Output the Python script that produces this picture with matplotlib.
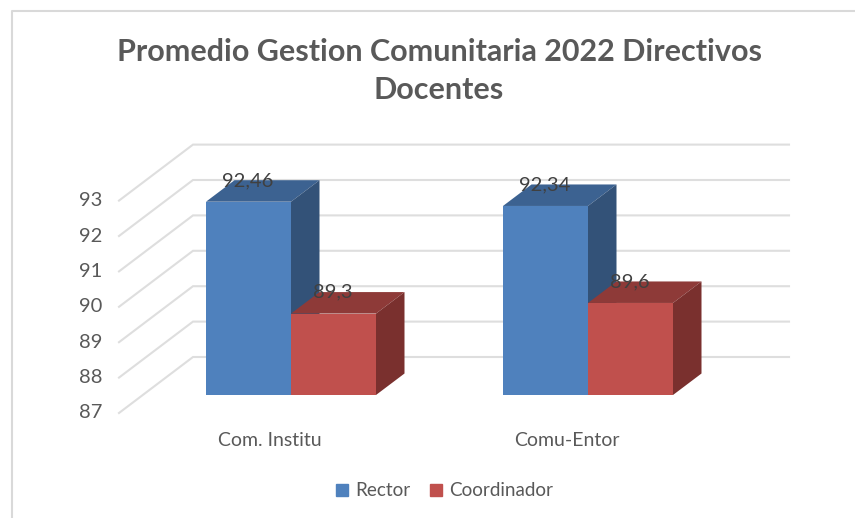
import matplotlib
matplotlib.use('Agg')
import matplotlib.pyplot as plt
from matplotlib.patches import Polygon, Rectangle

plt.rcParams['font.family'] = ['Lato', 'DejaVu Sans']

#Chart values
title = 'Promedio Gestion Comunitaria 2022 Directivos\nDocentes'
categories = ['Com. Institu', 'Comu-Entor']
series_names = ['Rector', 'Coordinador']
rector = [92.46, 92.34]
coordinador = [89.3, 89.6]
rector_labels = ['92,46', '92,34']
coordinador_labels = ['89,3', '89,6']
y_ticks = [87, 88, 89, 90, 91, 92, 93]

W, H = 855, 518
PX_X = 297.0   #pixels per category
PX_Y = 35.4    #pixels per value unit
X0_PX = 291.0  #pixel of first category centre
Y0_PX = 395.0  #pixel of value 87 on the bars' front face

BAR_W = 85 / PX_X
BAR_DX, BAR_DY = 28.5 / PX_X, 21.5 / PX_Y
WALL_LEFT = (119 - X0_PX) / PX_X
WALL_BACK = (193 - X0_PX) / PX_X
WALL_RIGHT = (789 - X0_PX) / PX_X
WALL_FRONT_DY = (395 - 413) / PX_Y  #floor front edge sits under the bars
WALL_BACK_DY = (395 - 357) / PX_Y

GREY = '#595959'
BLUE = ['#4f81bd', '#3c6291', '#335278']
RED = ['#c0504d', '#8e3a38', '#7a302e']


def draw_bar(ax, x, value, colors):
	base = y_ticks[0]
	ax.bar(x, value - base, BAR_W, bottom=base, align='edge', color=colors[0], linewidth=0, zorder=3)
	top = [(x, value), (x + BAR_W, value), (x + BAR_W + BAR_DX, value + BAR_DY), (x + BAR_DX, value + BAR_DY)]
	side = [(x + BAR_W, base), (x + BAR_W + BAR_DX, base + BAR_DY), (x + BAR_W + BAR_DX, value + BAR_DY), (x + BAR_W, value)]
	ax.add_patch(Polygon(top, closed=True, color=colors[1], linewidth=0, zorder=2))
	ax.add_patch(Polygon(side, closed=True, color=colors[2], linewidth=0, zorder=2))


fig = plt.figure(figsize=(W / 100, H / 100), dpi=100)
ax = fig.add_axes([0, 0, 1, 1])
ax.set_xlim(-X0_PX / PX_X, (W - X0_PX) / PX_X)
ax.set_ylim(y_ticks[0] - (H - Y0_PX) / PX_Y, y_ticks[0] + Y0_PX / PX_Y)
ax.axis('off')

#Wall and floor gridlines
for t in y_ticks:
	ax.plot([WALL_LEFT, WALL_BACK, WALL_RIGHT], [t + WALL_FRONT_DY, t + WALL_BACK_DY, t + WALL_BACK_DY],
			color='#dedede', lw=1.5, zorder=1, solid_joinstyle='miter')
	ax.text(WALL_LEFT - 17 / PX_X, t + WALL_FRONT_DY, str(t), ha='right', va='center', fontsize=14.5, color=GREY)

#Bars, blue first so the red top covers the blue side
for i in range(len(categories)):
	draw_bar(ax, i - BAR_W, rector[i], BLUE)
	draw_bar(ax, i, coordinador[i], RED)
	ax.text(i - BAR_W + 42 / PX_X, rector[i] + 0.6, rector_labels[i], ha='center', va='center', fontsize=14.5, color='#404040', zorder=5)
	ax.text(i + 42 / PX_X, coordinador[i] + 0.6, coordinador_labels[i], ha='center', va='center', fontsize=14.5, color='#404040', zorder=5)
	ax.text(i - 21 / PX_X, y_ticks[0] - 1.28, categories[i], ha='center', va='center', fontsize=14, color=GREY)

ax.text(439 / W, 1 - 71 / H, title, transform=ax.transAxes, ha='center', va='center', fontsize=22,
		fontweight='bold', color=GREY, linespacing=1.43)

#Legend
handles = [Rectangle((0, 0), 1, 1, color=BLUE[0]), Rectangle((0, 0), 1, 1, color=RED[0])]
ax.legend(handles, series_names, loc='center', bbox_to_anchor=(444.5 / W, 1 - 491 / H), ncol=2, frameon=False,
		  fontsize=13.6, labelcolor=GREY, handlelength=0.65, handleheight=0.65, handletextpad=0.4, columnspacing=1.0)

#Outer frame of the pasted chart
fig.add_artist(plt.Line2D([11.5 / W, 11.5 / W, 1], [0, 1 - 10.5 / H, 1 - 10.5 / H], color='#d9d9d9', lw=1.5))

fig.savefig('out.png', dpi=100)
